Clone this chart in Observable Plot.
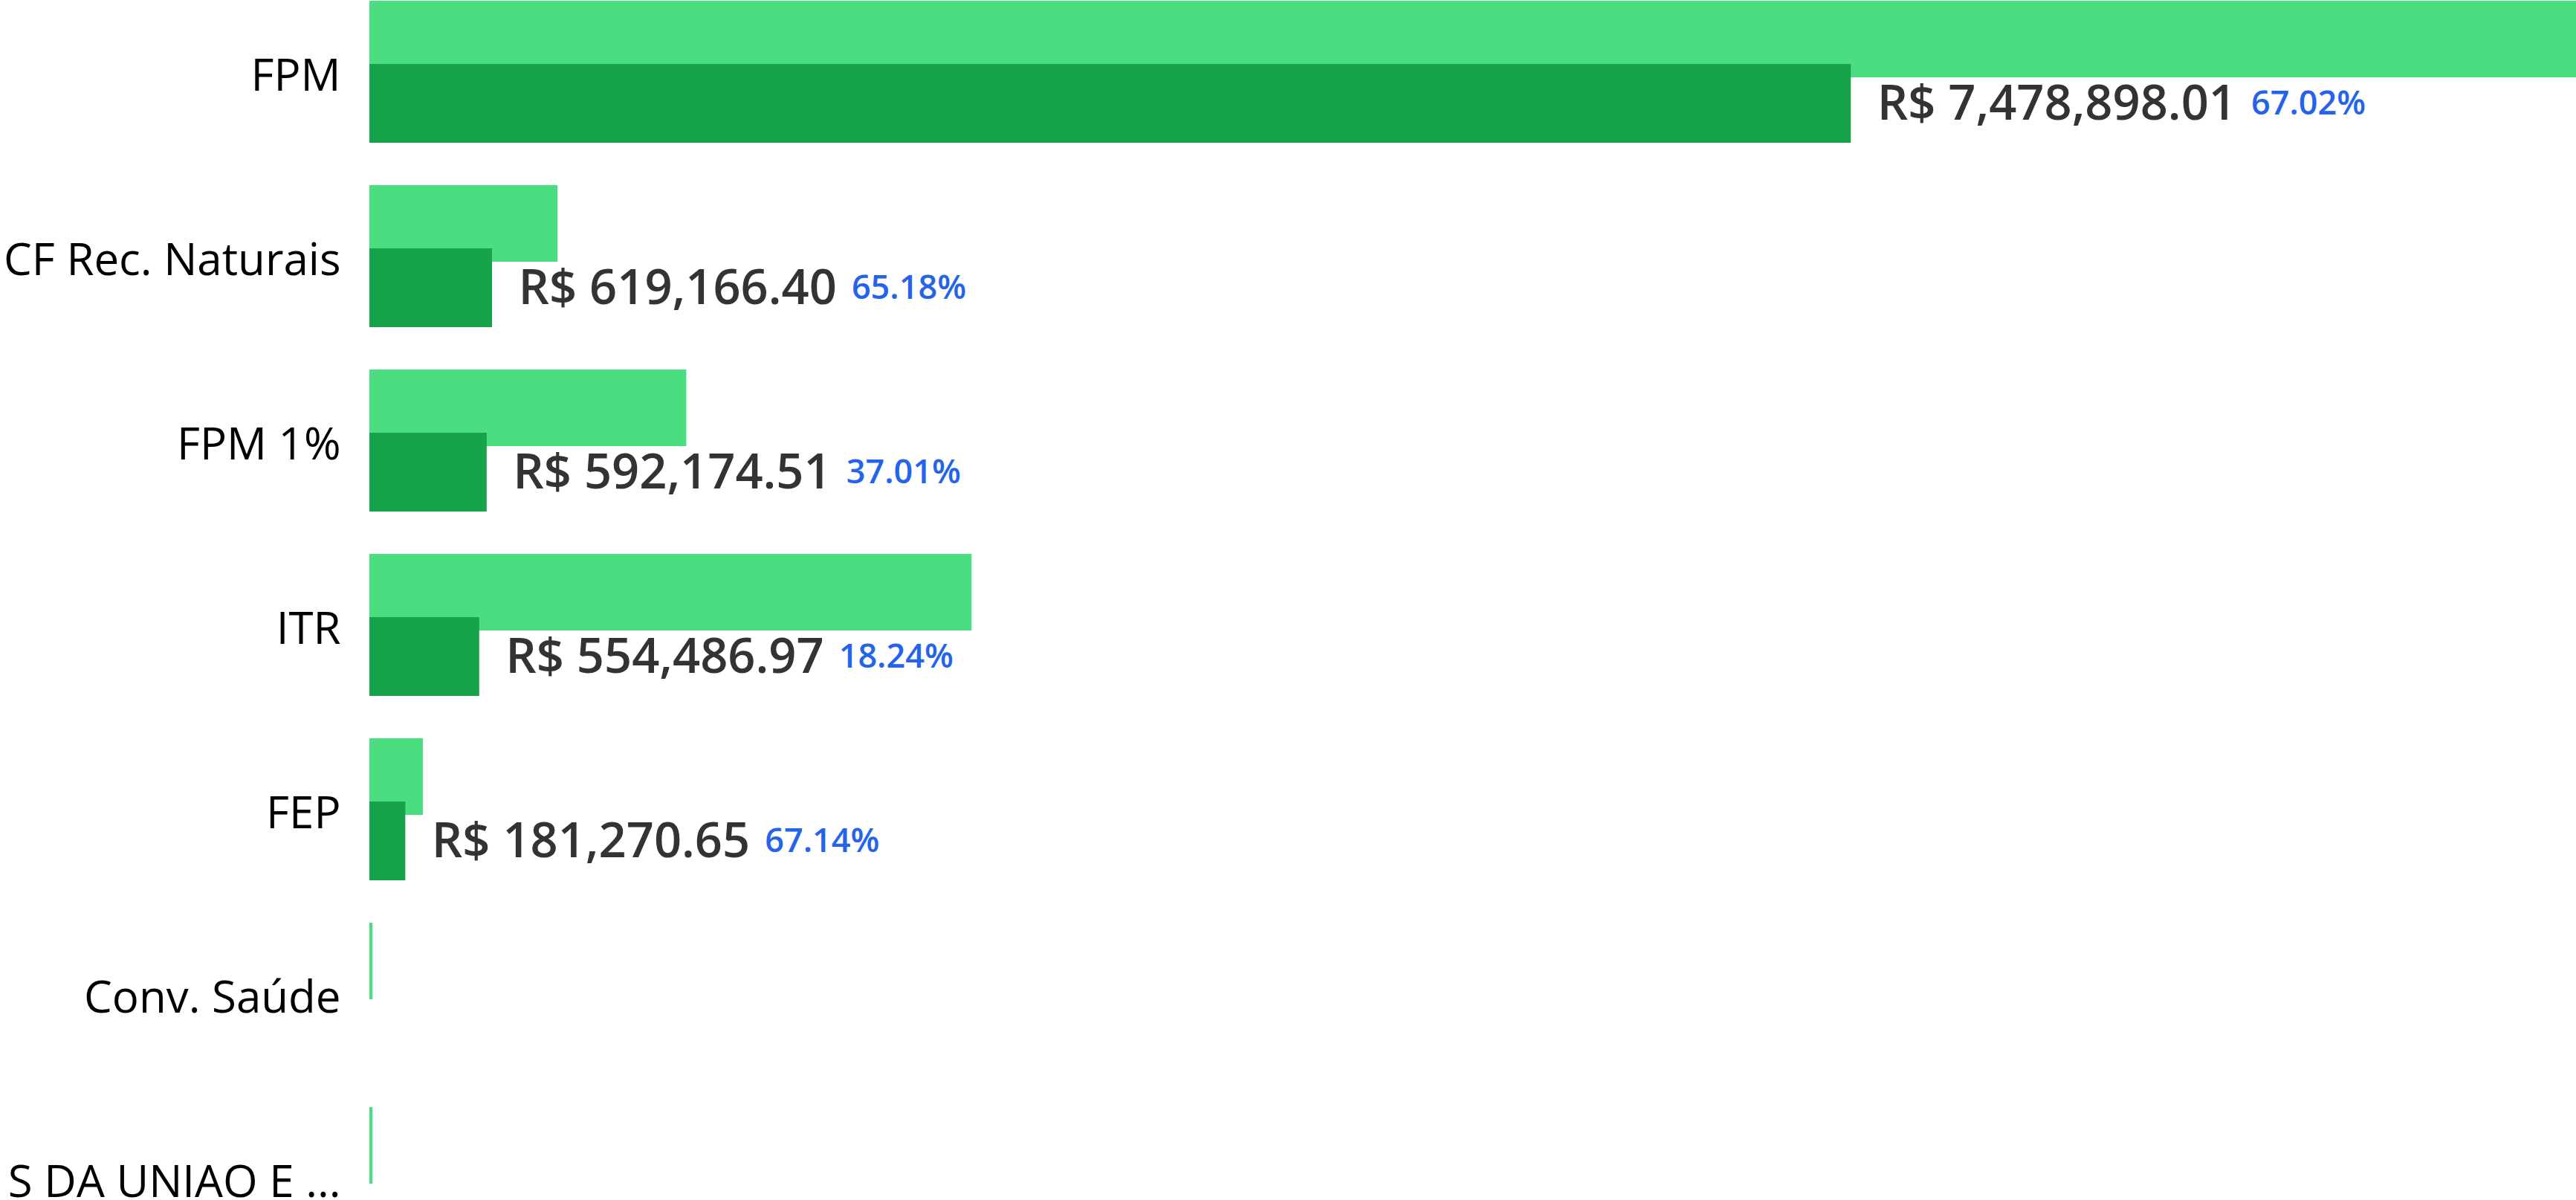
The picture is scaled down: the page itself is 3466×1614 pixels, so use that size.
<!DOCTYPE html>
<html>
<head>
<meta charset="utf-8">
<script src="https://cdn.jsdelivr.net/npm/d3@7"></script>
<script src="https://cdn.jsdelivr.net/npm/@observablehq/plot@0.6"></script>
<style>
  html, body { margin: 0; padding: 0; background: #fff; overflow: hidden; }
  #chart { width: 3466px; height: 1614px; }
</style>
</head>
<body>
<div id="chart"></div>
<script>
// Categories (top to bottom)
const categories = ["FPM", "CF Rec. Naturais", "FPM 1%", "ITR", "FEP", "Conv. Saúde", "S DA UNIAO E ..."];
// Realized amounts (dark bars, R$)
const realized = [7478898.01, 619166.40, 592174.51, 554486.97, 181270.65, null, null];
// Expected / reference amounts (light bars, R$)
const expected = [11159000, 949900, 1600000, 3040000, 270000, 16000, 16000];
// Percent labels
const percents = ["67.02%", "65.18%", "37.01%", "18.24%", "67.14%", null, null];

const data = categories.map((c, i) => ({
  cat: c, realized: realized[i], expected: expected[i], pct: percents[i]
}));
const labeled = data.filter(d => d.realized != null);

const fmt = d3.format(",.2f");
const font = "'Segoe UI', 'Open Sans', 'Noto Sans', sans-serif";

const chart = Plot.plot({
  width: 3466,
  height: 1614,
  marginLeft: 497,
  marginRight: 0,
  marginTop: 0,
  marginBottom: 0,
  style: { fontFamily: font, color: "#000", background: "#fff" },
  x: { domain: [0, 11140000], axis: null },
  y: { domain: categories, range: [0, 1736], padding: 0, axis: null },
  marks: [
    Plot.barX(data, { x: "expected", y: "cat", fill: "#4ade80", insetTop: 1, insetBottom: 144 }),
    Plot.barX(labeled, { x: "realized", y: "cat", fill: "#16a34a", insetTop: 86, insetBottom: 56 }),
    Plot.text(labeled, {
      x: "realized", y: "cat",
      text: d => "R$ " + fmt(d.realized),
      textAnchor: "start", dx: 35, dy: 16,
      fontSize: 65, fontWeight: 600, fill: "#333",
      className: "value-label"
    }),
    Plot.axisY({ tickSize: 0, tickPadding: 39, dy: -22, fontSize: 60, label: null, fill: "#000" })
  ]
});

// Append the percentage as a blue tspan after each value label
d3.select(chart).selectAll(".value-label text").each(function() {
  const i = d3.select(this).datum();
  const d = labeled[i];
  if (!d || !d.pct) return;
  d3.select(this).append("tspan")
    .attr("dx", 20)
    .attr("dy", -7)
    .attr("font-size", 45)
    .attr("font-weight", 600)
    .attr("fill", "#2563eb")
    .text(d.pct);
});

document.getElementById("chart").appendChild(chart);
</script>
</body>
</html>
